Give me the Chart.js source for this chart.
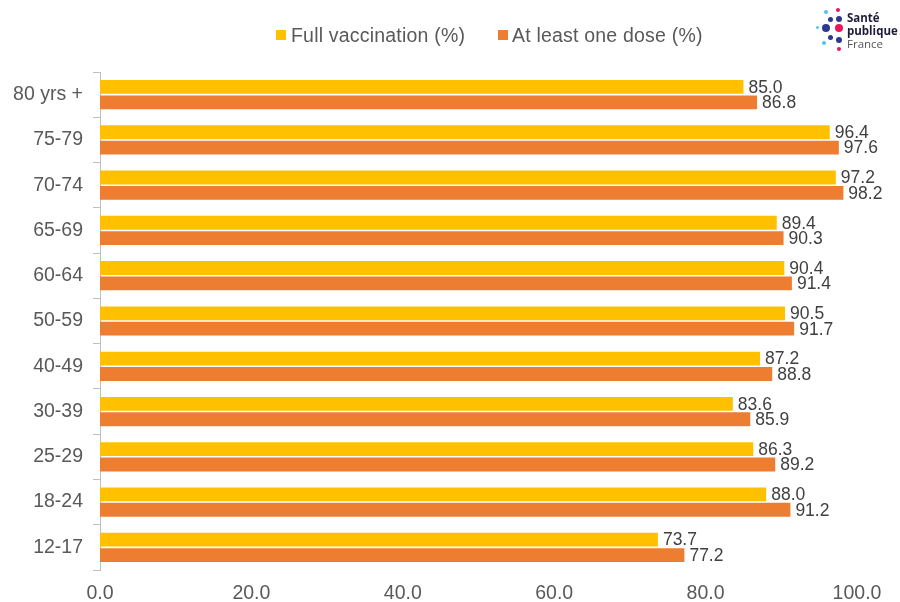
<!DOCTYPE html>
<html>
<head>
<meta charset="utf-8">
<script src="https://cdn.jsdelivr.net/npm/chart.js@4.4.0/dist/chart.umd.min.js"></script>
<style>
  body { margin: 0; background: #fff; }
  #wrap { position: relative; width: 900px; height: 602px; }
  #leyenda { position: absolute; top: 24px; left: 0; width: 900px; height: 24px; font-family: "Liberation Sans", Arial, sans-serif; font-size: 19.5px; color: #595959; }
  #leyenda span.c { position: absolute; top: 6px; width: 10px; height: 10px; }
  #leyenda span.t { position: absolute; top: 0; line-height: 22px; letter-spacing: 0.2px; }
  #logo { position: absolute; left: 812px; top: 8px; width: 88px; height: 50px; font-family: "Open Sans", Arial, sans-serif; }
  #logo .t { position: absolute; left: 35px; font-size: 11.5px; line-height: 13px; color: #1d1d3a; font-weight: bold; white-space: nowrap; }
  #logo .f { font-weight: normal; color: #555; }
  #logo i { position: absolute; border-radius: 50%; display: block; }
</style>
</head>
<body>
<div id="wrap">
  <canvas id="grafico" width="900" height="602"></canvas>
  <div id="leyenda"></div>
  <div id="logo">
    <i style="left:12px;top:2px;width:4px;height:4px;background:#4fc3f7"></i>
    <i style="left:24px;top:0px;width:4px;height:4px;background:#e6195a"></i>
    <i style="left:16px;top:9px;width:5px;height:5px;background:#2b3a8f"></i>
    <i style="left:24px;top:8px;width:6px;height:6px;background:#2b3a8f"></i>
    <i style="left:4px;top:18px;width:3px;height:3px;background:#4fc3f7"></i>
    <i style="left:10px;top:16px;width:8px;height:8px;background:#2b3a8f"></i>
    <i style="left:23px;top:16px;width:8px;height:8px;background:#e6195a"></i>
    <i style="left:16px;top:27px;width:5px;height:5px;background:#2b3a8f"></i>
    <i style="left:10px;top:33px;width:4px;height:4px;background:#4fc3f7"></i>
    <i style="left:24px;top:29px;width:6px;height:6px;background:#2b3a8f"></i>
    <i style="left:25px;top:39px;width:4px;height:4px;background:#e6195a"></i>
    <div class="t" style="top:3px">Santé</div>
    <div class="t" style="top:16px">publique</div>
    <div class="t f" style="top:29px">France</div>
  </div>
</div>
<script>
// DATOS
const categorias = ["80 yrs +", "75-79", "70-74", "65-69", "60-64", "50-59", "40-49", "30-39", "25-29", "18-24", "12-17"];
const vacunacionCompleta = [85.0, 96.4, 97.2, 89.4, 90.4, 90.5, 87.2, 83.6, 86.3, 88.0, 73.7];
const unaDosis = [86.8, 97.6, 98.2, 90.3, 91.4, 91.7, 88.8, 85.9, 89.2, 91.2, 77.2];
const nombresSeries = ["Full vaccination (%)", "At least one dose (%)"];
const colores = ["#FFC000", "#ED7D31"];
// DATOS END

const fuente = "'Liberation Sans', Arial, sans-serif";

// LEYENDA
function leyenda() {
  const pos = [[276, 291], [498, 512]];
  let html = "";
  nombresSeries.forEach((n, i) => {
    html += `<span class="c" style="left:${pos[i][0]}px;background:${colores[i]}"></span>
             <span class="t" style="left:${pos[i][1]}px">${n}</span>`;
  });
  document.getElementById("leyenda").innerHTML = html;
}
leyenda();

// etiquetas al final de cada barra
const etiquetas = {
  id: "etiquetas",
  afterDatasetsDraw(chart) {
    const ctx = chart.ctx;
    ctx.save();
    ctx.font = "17.5px " + fuente;
    ctx.fillStyle = "#404040";
    ctx.textAlign = "left";
    ctx.textBaseline = "middle";
    chart.data.datasets.forEach((ds, i) => {
      chart.getDatasetMeta(i).data.forEach((bar, j) => {
        ctx.fillText(ds.data[j].toFixed(1), bar.x + 5, bar.y + 1);
      });
    });
    ctx.restore();
  },
};

const data = {
  labels: categorias,
  datasets: [
    {
      label: nombresSeries[0],
      data: vacunacionCompleta,
      backgroundColor: colores[0],
      barPercentage: 0.9,
      categoryPercentage: 0.68,
    },
    {
      label: nombresSeries[1],
      data: unaDosis,
      backgroundColor: colores[1],
      barPercentage: 0.9,
      categoryPercentage: 0.68,
    },
  ],
};

const config = {
  type: "bar",
  data: data,
  options: {
    indexAxis: "y",
    responsive: false,
    animation: false,
    layout: { padding: { left: 0, right: 43, top: 72, bottom: 0 } },
    plugins: {
      legend: { display: false },
      tooltip: { enabled: false },
    },
    scales: {
      x: {
        min: 0,
        max: 100,
        ticks: {
          stepSize: 20,
          color: "#595959",
          font: { size: 19.5, family: fuente },
          callback: (v) => v.toFixed(1),
          padding: 4,
          maxRotation: 0,
        },
        grid: { display: false },
        border: { display: false },
        afterFit: (scale) => { scale.height = 32; },
      },
      y: {
        ticks: {
          color: "#595959",
          font: { size: 19.5, family: fuente },
          padding: 10,
        },
        grid: {
          offset: true,
          drawOnChartArea: false,
          drawTicks: true,
          tickLength: 7,
          color: "#BFBFBF",
        },
        border: { display: true, color: "#BFBFBF" },
        afterFit: (scale) => { scale.width = 100; },
      },
    },
  },
  plugins: [etiquetas],
};

new Chart(document.getElementById("grafico"), config);
</script>
</body>
</html>
